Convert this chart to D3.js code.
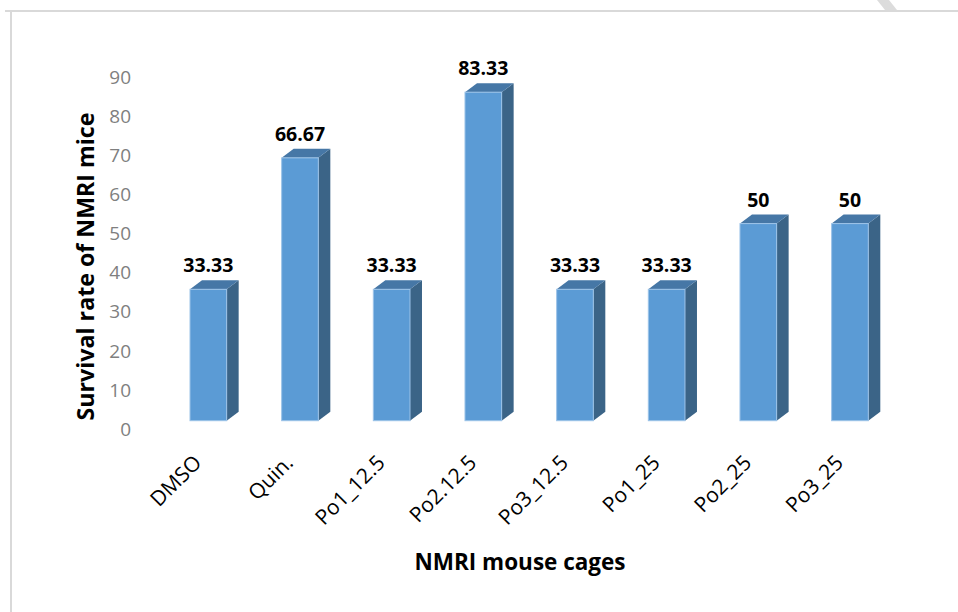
<!DOCTYPE html>
<html>
<head>
<meta charset="utf-8">
<script src="https://cdn.jsdelivr.net/npm/d3@7"></script>
<style>
  html, body { margin: 0; padding: 0; background: #fff; }
  svg { display: block; font-family: "Open Sans", "Noto Sans", sans-serif; }
</style>
</head>
<body>
<svg id="chart" width="958" height="612"></svg>
<script>
// Survival of NMRI mice per cage
const categories = ["DMSO", "Quin.", "Po1_12.5", "Po2.12.5", "Po3_12.5", "Po1_25", "Po2_25", "Po3_25"];
const survival = [33.33, 66.67, 33.33, 83.33, 33.33, 33.33, 50, 50];
const yTicks = [0, 10, 20, 30, 40, 50, 60, 70, 80, 90];
const yTitle = "Survival rate of NMRI mice";
const xTitle = "NMRI mouse cages";

const svg = d3.select("#chart");

// light frame along the top and left
svg.append("line").attr("x1", 5).attr("x2", 958).attr("y1", 11).attr("y2", 11)
  .attr("stroke", "#d9d9d9").attr("stroke-width", 2);
svg.append("line").attr("x1", 11).attr("x2", 11).attr("y1", 10).attr("y2", 612)
  .attr("stroke", "#d9d9d9").attr("stroke-width", 2);
svg.append("path").attr("d", "M877,0 L889,0 L897,10 L885,10 Z").attr("fill", "#dcdcdc");

// front plane of the bars and the slightly offset axis plane
const x = d3.scaleBand().domain(categories).range([162.5, 895.8]).paddingInner(0.6).paddingOuter(0.3);
const y = d3.scaleLinear().domain([0, 90]).range([420.7, 65.9]);
const yAxisScale = d3.scaleLinear().domain([0, 90]).range([428.3, 76.7]);
const depthX = 12, depthY = 9;

const yAxis = d3.axisLeft(yAxisScale).tickValues(yTicks).tickSize(0).tickPadding(0);
const gy = svg.append("g").attr("transform", "translate(131,0)").call(yAxis);
gy.select(".domain").remove();
gy.selectAll("text").attr("font-size", 19).attr("fill", "#7f7f7f")
  .attr("font-family", "'Open Sans', sans-serif").attr("dy", "0.36em");

const bars = svg.append("g").selectAll("g").data(categories).join("g");

bars.each(function(c, i) {
  const g = d3.select(this);
  const x0 = x(c), x1 = x(c) + x.bandwidth();
  const yt = y(survival[i]), yb = y(0);
  // side face
  g.append("path")
    .attr("d", `M${x1},${yt} L${x1 + depthX},${yt - depthY} L${x1 + depthX},${yb - depthY} L${x1},${yb} Z`)
    .attr("fill", "#3b6487");
  // top face
  g.append("path")
    .attr("d", `M${x0},${yt} L${x0 + depthX},${yt - depthY} L${x1 + depthX},${yt - depthY} L${x1},${yt} Z`)
    .attr("fill", "#4677a6");
  // front face
  g.append("rect")
    .attr("x", x0).attr("y", yt).attr("width", x.bandwidth()).attr("height", yb - yt)
    .attr("fill", "#5b9bd5").attr("stroke", "#9cc3e8").attr("stroke-width", 1);
  // value label
  g.append("text")
    .attr("x", (x0 + x1) / 2).attr("y", yt - 17)
    .attr("text-anchor", "middle").attr("font-weight", 700).attr("font-size", 19.5)
    .attr("fill", "#000").text(survival[i]);
});

// category labels, rotated
svg.append("g").selectAll("text").data(categories).join("text")
  .attr("transform", c => `translate(${x(c) + x.bandwidth() / 2 - 5.5},${464}) rotate(-45)`)
  .attr("text-anchor", "end").attr("font-size", 21).attr("fill", "#000")
  .text(c => c);

// axis titles
svg.append("text")
  .attr("transform", "translate(94,266.5) rotate(-90)")
  .attr("text-anchor", "middle").attr("font-weight", 700).attr("font-size", 23.2)
  .attr("fill", "#000").text(yTitle);

svg.append("text")
  .attr("x", 520).attr("y", 570)
  .attr("text-anchor", "middle").attr("font-weight", 700).attr("font-size", 22.5)
  .attr("fill", "#000").text(xTitle);
</script>
</body>
</html>
